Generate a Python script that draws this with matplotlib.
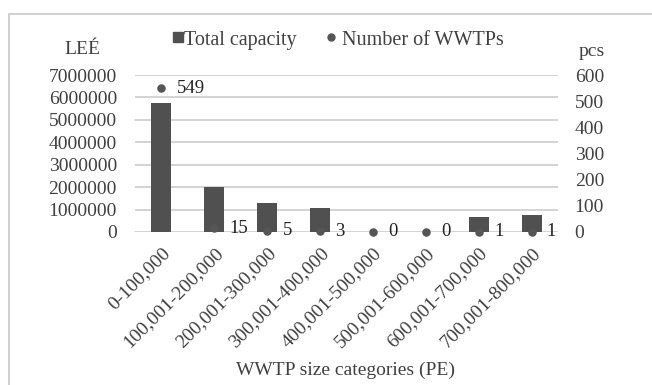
import matplotlib
matplotlib.use("Agg")
import matplotlib.pyplot as plt
from matplotlib.lines import Line2D
from matplotlib.patches import Rectangle

categories = ["0-100,000", "100,001-200,000", "200,001-300,000", "300,001-400,000",
              "400,001-500,000", "500,001-600,000", "600,001-700,000", "700,001-800,000"]
capacity = [5770000, 2010000, 1290000, 1070000, 0, 0, 670000, 760000]
n_plants = [549, 15, 5, 3, 0, 0, 1, 1]
left_ticks = [0, 1000000, 2000000, 3000000, 4000000, 5000000, 6000000, 7000000]
right_ticks = [0, 100, 200, 300, 400, 500, 600]

W, H = 652, 385
plt.rcParams["font.family"] = ["Liberation Serif", "DejaVu Serif"]
plt.rcParams["font.size"] = 14
TXT = "#404040"
BAR = "#505050"
DOT = "#555555"

fig = plt.figure(figsize=(W / 100, H / 100), dpi=100)
# outer chart frame
fig.patches.append(Rectangle((9 / W, -0.05), 1.1, 1 - 14 / H + 0.05, transform=fig.transFigure,
                             fill=False, edgecolor="#c8c8c8", lw=1.2))

ax = fig.add_axes([135 / W, 1 - 232 / H, (558 - 135) / W, (232 - 75) / H])
x = list(range(len(categories)))
ax.bar(x, capacity, width=0.38, color=BAR, zorder=2)
ax.set_xlim(-0.5, len(categories) - 0.5)
ax.set_ylim(0, 7000000)
ax.set_yticks(left_ticks)
ax.set_yticklabels([str(v) for v in left_ticks], color=TXT)
ax.yaxis.grid(True, color="#d0d0d0", lw=1.3)
ax.set_axisbelow(True)
for s in ax.spines.values():
    s.set_visible(False)
ax.tick_params(axis="both", length=0)
ax.tick_params(axis="y", pad=13)
ax.set_xticks(x)
ax.set_xticklabels(categories, rotation=45, ha="right", rotation_mode="anchor", color=TXT)
ax.tick_params(axis="x", pad=9)
fig.text(345 / W, 1 - 370 / H, "WWTP size categories (PE)", color=TXT, ha="center", va="center")

ax2 = ax.twinx()
ax2.set_ylim(0, 600)
ax2.set_yticks(right_ticks)
ax2.set_yticklabels([str(v) for v in right_ticks], color=TXT)
ax2.tick_params(axis="y", length=0, pad=12)
for s in ax2.spines.values():
    s.set_visible(False)
ax2.scatter(x, n_plants, s=26, color=DOT, zorder=3, clip_on=False)
for xi, v in zip(x, n_plants):
    ax2.annotate(str(v), (xi, v), xytext=(11, 0), textcoords="offset points",
                 va="center", ha="left", color="#222222", fontsize=13.5)

fig.text(82 / W, 1 - 50 / H, "LEÉ", color=TXT, ha="center", va="center")
fig.text(592 / W, 1 - 51 / H, "pcs", color=TXT, ha="center", va="center")

# legend entries, laid out side by side
sq = Line2D([], [], ls="none", marker="s", markersize=7.2, color=BAR)
dot = Line2D([], [], ls="none", marker="o", markersize=5, color=DOT)
lg1 = fig.legend([sq], ["Total capacity"], loc="center left", bbox_to_anchor=(173 / W, 1 - 40 / H),
                 frameon=False, borderpad=0, borderaxespad=0, handlelength=0.5,
                 handletextpad=0.05, fontsize=14.5, labelcolor=TXT)
lg2 = fig.legend([dot], ["Number of WWTPs"], loc="center left", bbox_to_anchor=(326 / W, 1 - 40 / H),
                 frameon=False, borderpad=0, borderaxespad=0, handlelength=0.5,
                 handletextpad=0.3, fontsize=14.5, labelcolor=TXT)

fig.savefig("out.png", dpi=100)
